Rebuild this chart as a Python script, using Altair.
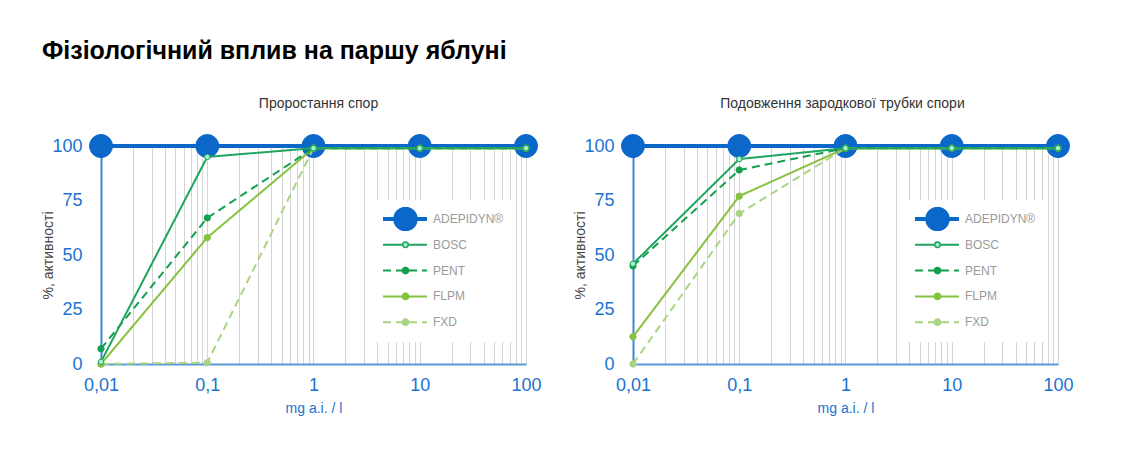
import altair as alt
import pandas as pd

# ---------------- data ----------------
doses = [0.01, 0.1, 1, 10, 100]
dose_labels = ["0,01", "0,1", "1", "10", "100"]
series = ["ADEPIDYN®", "BOSC", "PENT", "FLPM", "FXD"]
series_keys = ["k1", "k2", "k3", "k4", "k5"]
draw_order = ["ADEPIDYN®", "FXD", "FLPM", "PENT", "BOSC"]

main_title = "Фізіологічний вплив на паршу яблуні"
left_title = "Проростання спор"
right_title = "Подовження зародкової трубки спори"
x_title = "mg a.i. / l"
y_title = "%, активності"
y_ticks = [0, 25, 50, 75, 100]

left_adepidyn = [100, 100, 100, 100, 100]
left_bosc = [1, 95, 99, 99, 99]
left_pent = [7, 67, 99, 99, 99]
left_flpm = [0, 58, 99, 99, 99]
left_fxd = [0, 0.6, 99, 99, 99]

right_adepidyn = [100, 100, 100, 100, 100]
right_bosc = [46, 94, 99, 99, 99]
right_pent = [45, 89, 99, 99, 99]
right_flpm = [12.5, 77, 99, 99, 99]
right_fxd = [0, 69, 99, 99, 99]

# ---------------- styles ----------------
line_colors = ["#0b68c9", "#1ea55f", "#14a04e", "#86c140", "#a9d483"]
marker_fill = ["#0b68c9", "#a6f0cb", "#14a04e", "#86c140", "#a9d483"]
dashes = [[1, 0], [1, 0], [8, 5], [1, 0], [8, 5]]
widths = [4, 2, 2, 2, 2]
sizes = [529, 30, 40, 40, 40]

FONT = "Liberation Sans"
BLUE_TXT = "#1a73cf"

grid_values = [round(d * k, 10) for d in [0.01, 0.1, 1, 10] for k in range(1, 10)] + [100]
label_expr = "".join(
    f"datum.value == {v} ? '{t}' : " for v, t in zip(doses, dose_labels)
) + "''"


def make_df(vals):
    rows = []
    for name in draw_order:
        i = series.index(name)
        for d, v in zip(doses, vals[name]):
            rows.append({"dose": d, "value": v, "series": name, "key": series_keys[i]})
    return pd.DataFrame(rows)


def panel(vals, title, title_dx):
    df = make_df(vals)
    x = alt.X(
        "dose:Q",
        scale=alt.Scale(type="log", domain=[0.01, 100]),
        axis=alt.Axis(
            values=grid_values, grid=True, gridColor="#d4d4d4", gridWidth=1,
            ticks=False, domainColor="#5d97d8", domainWidth=2,
            labelExpr=label_expr, labelColor=BLUE_TXT, labelFontSize=18,
            labelFont=FONT, labelPadding=12, labelFlush=False, labelOverlap=False,
            title=x_title, titleColor=BLUE_TXT, titleFontSize=14,
            titleFontWeight="normal", titleFont=FONT, titlePadding=7,
        ),
    )
    y = alt.Y(
        "value:Q",
        scale=alt.Scale(domain=[0, 100]),
        axis=alt.Axis(
            values=y_ticks, grid=False, ticks=False, domainColor="#3a86d6",
            domainWidth=2, labelColor=BLUE_TXT, labelFontSize=18, labelFont=FONT,
            labelPadding=19, title=y_title, titleColor="#444444", titleFontSize=14,
            titleFontWeight="normal", titleFont=FONT, titlePadding=-4,
        ),
    )
    legA = alt.Legend(
        title=None, orient="none", legendX=273, legendY=54, symbolType="stroke",
        symbolSize=1936, clipHeight=24, rowPadding=1.8, padding=7,
        fillColor="white", labelColor="#9a9a9a", labelFontSize=12,
        labelFont=FONT, labelOffset=4,
    )
    legB = alt.Legend(
        title=None, orient="none", legendX=292, legendY=61, symbolType="circle",
        clipHeight=24, rowPadding=1.8, padding=0, labelExpr="''",
        labelFontSize=24,
    )
    color = alt.Color("series:N", scale=alt.Scale(domain=series, range=line_colors), legend=legA)
    dash = alt.StrokeDash("series:N", scale=alt.Scale(domain=series, range=dashes), legend=legA)
    sw = alt.StrokeWidth("series:N", scale=alt.Scale(type="ordinal", domain=series, range=widths), legend=legA)
    fill = alt.Fill("key:N", scale=alt.Scale(domain=series_keys, range=marker_fill), legend=legB)
    stroke = alt.Stroke("key:N", scale=alt.Scale(domain=series_keys, range=line_colors), legend=legB)
    size = alt.Size("key:N", scale=alt.Scale(type="ordinal", domain=series_keys, range=sizes), legend=legB)

    base = alt.Chart(df)
    is_main = alt.datum.series == "ADEPIDYN®"
    l1 = base.transform_filter(is_main).mark_line().encode(x=x, y=y, color=color, strokeDash=dash, strokeWidth=sw)
    p1 = base.transform_filter(is_main).mark_point(filled=True, opacity=1, strokeWidth=1).encode(x=x, y=y, fill=fill, stroke=stroke, size=size)
    l2 = base.transform_filter(~is_main).mark_line().encode(x=x, y=y, color=color, strokeDash=dash, strokeWidth=sw)
    p2 = base.transform_filter(~is_main).mark_point(filled=True, opacity=1, strokeWidth=1).encode(x=x, y=y, fill=fill, stroke=stroke, size=size)
    return alt.layer(l1, p1, l2, p2).properties(
        width=425, height=218,
        title=alt.Title(title, fontSize=14, fontWeight="normal", color="#333333",
                        font=FONT, offset=22, dx=title_dx),
    )


left_vals = {"ADEPIDYN®": left_adepidyn, "BOSC": left_bosc, "PENT": left_pent, "FLPM": left_flpm, "FXD": left_fxd}
right_vals = {"ADEPIDYN®": right_adepidyn, "BOSC": right_bosc, "PENT": right_pent, "FLPM": right_flpm, "FXD": right_fxd}

ind = "independent"
chart = (
    alt.hconcat(panel(left_vals, left_title, 5), panel(right_vals, right_title, -3), spacing=31)
    .resolve_scale(color=ind, strokeDash=ind, strokeWidth=ind, fill=ind, stroke=ind, size=ind)
    .resolve_legend(color=ind, strokeDash=ind, strokeWidth=ind, fill=ind, stroke=ind, size=ind)
    .properties(
        title=alt.Title(main_title, anchor="start", fontSize=25, fontWeight="bold",
                        font=FONT, color="#000000", offset=33),
        padding={"left": 33, "top": 30, "right": 5, "bottom": 5},
        background="white",
    )
    .configure_view(stroke=None)
)

chart.save("out.html", embed_options={"renderer": "svg", "actions": False})
